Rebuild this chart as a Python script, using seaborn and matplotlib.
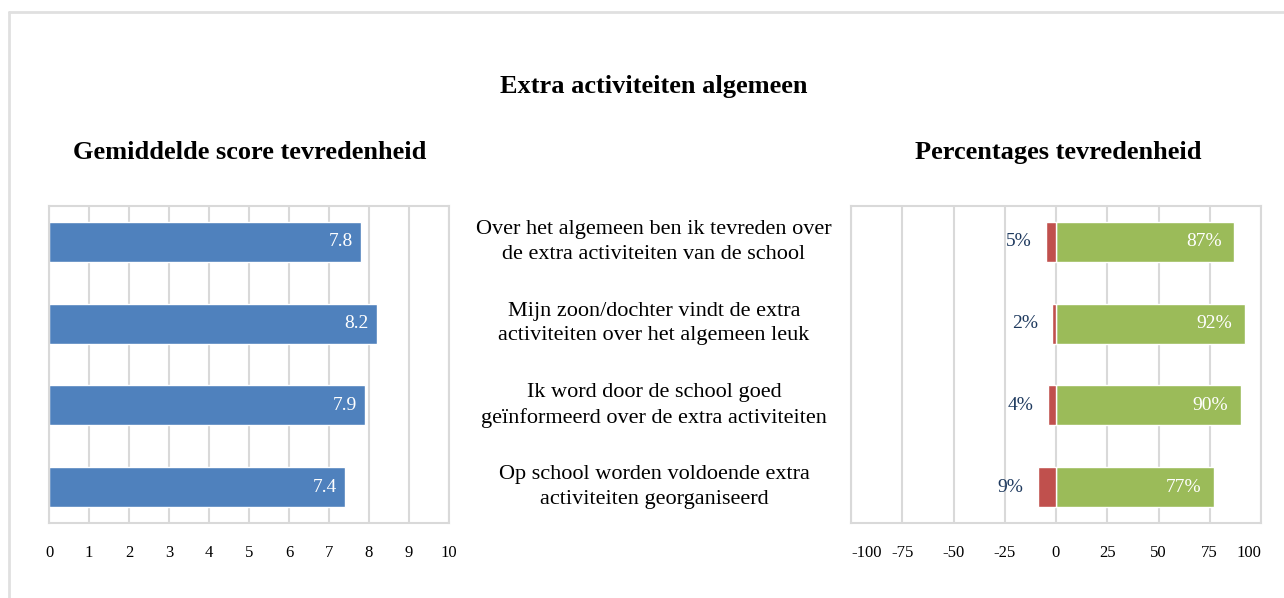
import pandas as pd
import numpy as np
import matplotlib.pyplot as plt
import matplotlib.transforms as mtransforms
from matplotlib.lines import Line2D
import seaborn as sns

# Data
statements = [
    'Over het algemeen ben ik tevreden over\nde extra activiteiten van de school',
    'Mijn zoon/dochter vindt de extra\nactiviteiten over het algemeen leuk',
    'Ik word door de school goed\ngeïnformeerd over de extra activiteiten',
    'Op school worden voldoende extra\nactiviteiten georganiseerd',
]
scores = [7.8, 8.2, 7.9, 7.4]
pct_unhappy = [5, 2, 4, 9]
pct_happy = [87, 92, 90, 77]
score_ticks = list(range(0, 11))
pct_ticks = [-100, -75, -50, -25, 0, 25, 50, 75, 100]

sns.set_style('white')
plt.rcParams['font.family'] = ['Liberation Serif', 'DejaVu Serif']
plt.rcParams['text.color'] = 'black'
plt.rcParams['axes.unicode_minus'] = False

blue = '#4F81BD'
red = '#C0504D'
green = '#9BBB59'
grid_col = '#D9D9D9'
navy = '#1F3A5F'

df = pd.DataFrame({'stelling': statements, 'score': scores,
                   'neg': [-v for v in pct_unhappy], 'pos': pct_happy})

fig = plt.figure(figsize=(12.84, 5.98), dpi=100)
ax1 = fig.add_axes([49 / 1284, 1 - 523 / 598, 400 / 1284, 317 / 598])
ax2 = fig.add_axes([851 / 1284, 1 - 523 / 598, 410 / 1284, 317 / 598])

# Left: average scores
sns.barplot(data=df, x='score', y='stelling', orient='h', color=blue,
            width=0.49, saturation=1, ax=ax1)
for i, v in enumerate(scores):
    ax1.annotate(f'{v:.1f}', (v, i), xytext=(-6, 0), textcoords='offset points',
                 ha='right', va='center', color='white', fontsize=14)
ax1.set_xlim(0, 10)
ax1.set_xticks(score_ticks)

# Right: percentages
sns.barplot(data=df, x='pos', y='stelling', orient='h', color=green,
            width=0.49, saturation=1, ax=ax2)
sns.barplot(data=df, x='neg', y='stelling', orient='h', color=red,
            width=0.49, saturation=1, ax=ax2)
for i, (n, p) in enumerate(zip(pct_unhappy, pct_happy)):
    ax2.annotate(f'{p}%', (p, i), xytext=(-9, 0), textcoords='offset points',
                 ha='right', va='center', color='white', fontsize=14)
    ax2.annotate(f'{n}%', (-n, i), xytext=(-10, 0), textcoords='offset points',
                 ha='right', va='center', color=navy, fontsize=14)
ax2.set_xlim(-100, 100)
ax2.set_xticks(pct_ticks)

for ax in (ax1, ax2):
    ax.set_ylim(3.44, -0.44)
    ax.set_xlabel('')
    ax.set_ylabel('')
    ax.set_yticks([])
    ax.set_axisbelow(True)
    ax.grid(axis='x', color=grid_col, linewidth=1.5)
    ax.tick_params(axis='x', length=0, pad=16, labelsize=12, labelcolor='black')
    for s in ax.spines.values():
        s.set_visible(True)
        s.set_color(grid_col)
        s.set_linewidth(1.5)

# Excel keeps the outermost tick labels inside the plot area
fig.canvas.draw()
lbls = ax2.get_xticklabels()
lbls[0].set_horizontalalignment('left')
lbls[-1].set_horizontalalignment('right')
ax1.get_xticklabels()[-1].set_x(9.9)

# Statements in the middle, aligned with the bars
trans = mtransforms.blended_transform_factory(fig.transFigure, ax1.transData)
for i, s in enumerate(statements):
    fig.text(654 / 1284, i, s, transform=trans, ha='center', va='center',
             fontsize=16, linespacing=1.4)

# Titles
fig.text(654 / 1284, 1 - 87 / 598, 'Extra activiteiten algemeen', ha='center',
         va='center', fontsize=19, fontweight='bold')
fig.text(250 / 1284, 1 - 153 / 598, 'Gemiddelde score tevredenheid', ha='center',
         va='center', fontsize=19, fontweight='bold')
fig.text(1058 / 1284, 1 - 153 / 598, 'Percentages tevredenheid', ha='center',
         va='center', fontsize=19, fontweight='bold')

# Outer border (top and left)
bx, by = 9 / 1284, 1 - 12 / 598
fig.add_artist(Line2D([bx, 1], [by, by], transform=fig.transFigure, color='#E0E0E0', lw=2))
fig.add_artist(Line2D([bx, bx], [0, by], transform=fig.transFigure, color='#E0E0E0', lw=2))

fig.savefig('out.png', dpi=100)
